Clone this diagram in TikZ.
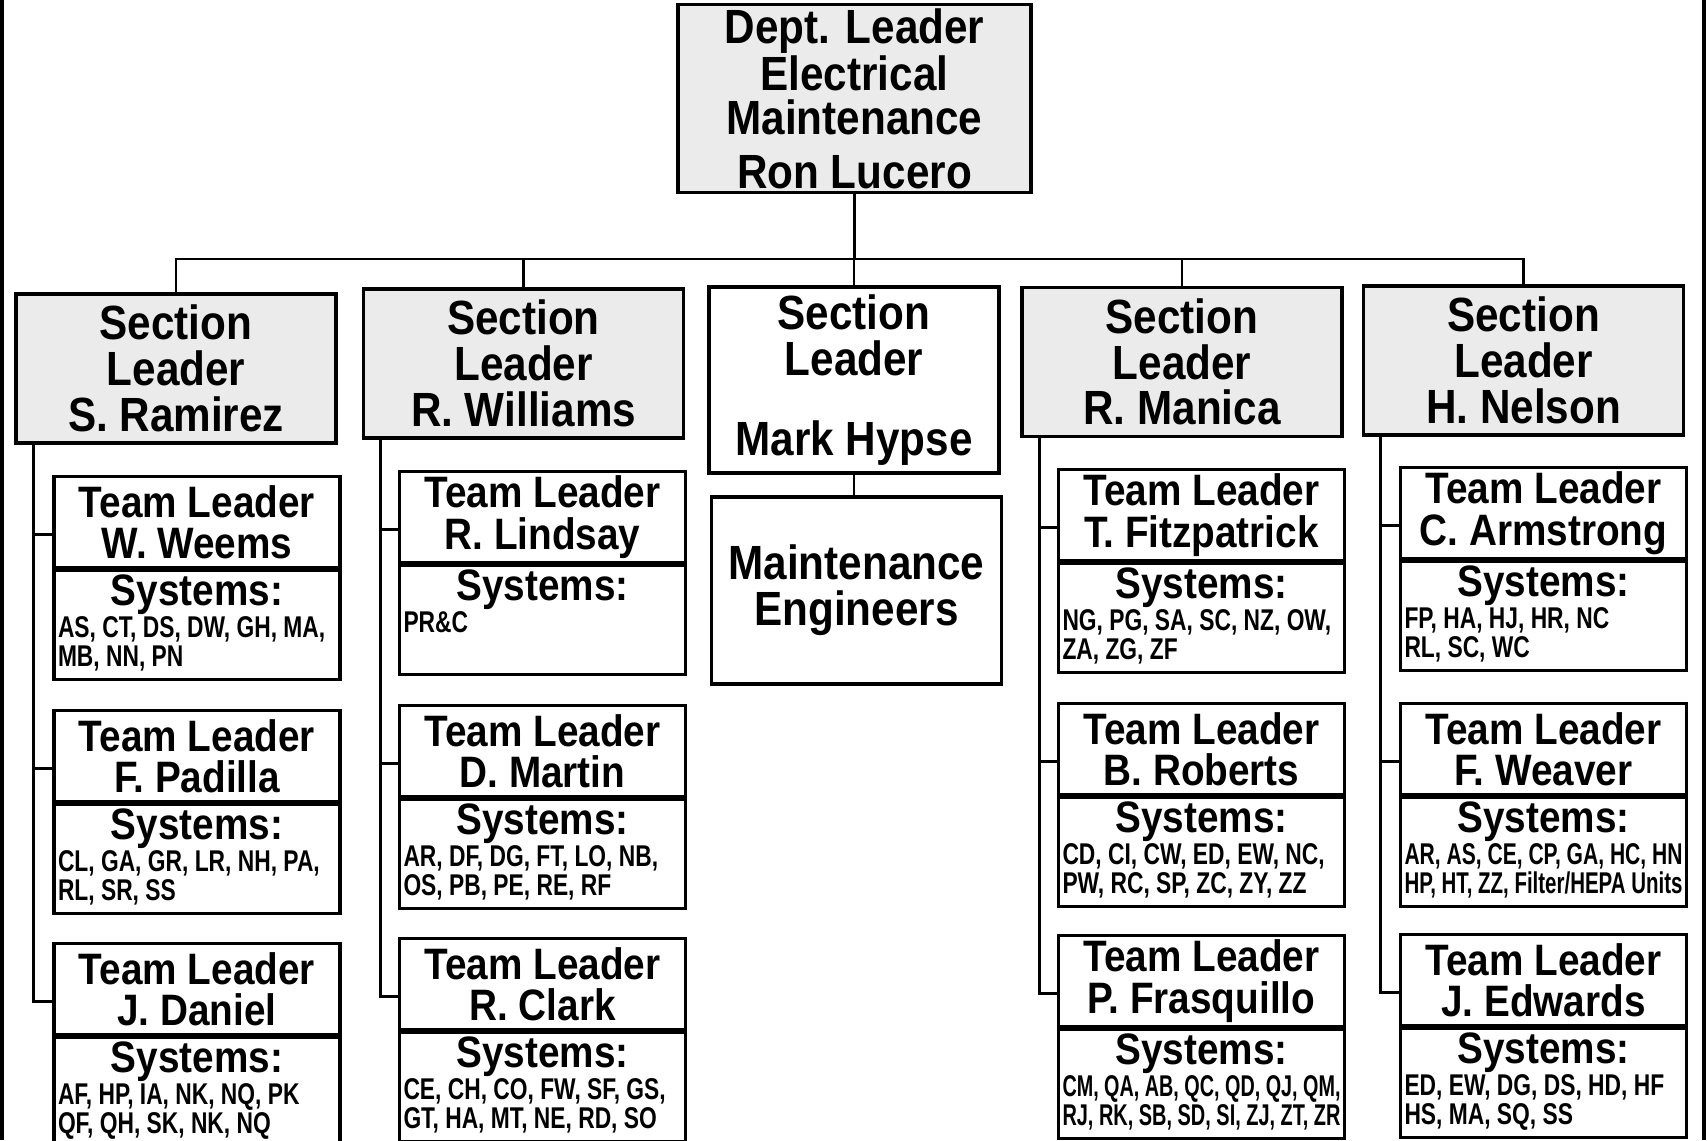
\documentclass[tikz,border=0pt]{standalone}
\usepackage{fontspec}
\usepackage{graphicx}
\setmainfont[FakeStretch=0.88]{Liberation Sans}
\newfontfamily\narrowfont[FakeStretch=0.76]{Liberation Sans}
\usetikzlibrary{positioning,calc}
\definecolor{stipplegray}{gray}{0.92}

\newcommand{\deptfont}{\fontsize{24}{22.3}\selectfont\bfseries}
\newcommand{\secfont}{\fontsize{24}{22.9}\selectfont\bfseries}
\newcommand{\teamfont}{\fontsize{22}{20.7}\selectfont\bfseries}
\newcommand{\listfont}{\narrowfont\fontsize{15}{14.2}\selectfont\bfseries}
\newsavebox{\fitbox}
\newcommand{\fitline}[1]{\leavevmode\sbox{\fitbox}{#1}%
  \ifdim\wd\fitbox>\linewidth\resizebox{\linewidth}{\ht\fitbox}{#1}\else\usebox{\fitbox}\fi}
\newcommand{\sysbox}[2]{\parbox[c][50.5pt][t]{139pt}{\centering\teamfont Systems:\par
  \raggedright\listfont\fitline{#1}\par\fitline{#2}}}

\begin{document}
\begin{tikzpicture}[
      x=0.5pt, y=-0.5pt,
      node distance=0pt,
      dept/.style={rectangle, draw, line width=1.8pt, fill=stipplegray, align=center, font=\deptfont, minimum width=176.5pt, minimum height=93.5pt, inner sep=2pt},
      section/.style={rectangle, draw, line width=1.8pt, fill=stipplegray, align=center, font=\secfont, minimum width=160pt, minimum height=74.5pt, inner sep=2pt},
      plain/.style={section, fill=white, minimum width=145pt, minimum height=93pt},
      team/.style={rectangle, draw, line width=1.6pt, align=center, font=\teamfont, minimum width=143pt, minimum height=45.5pt, inner sep=1pt, anchor=north},
      sys/.style={rectangle, draw, line width=1.6pt, minimum width=143pt, inner sep=2pt},
      link/.style={line width=1.4pt}
    ]
      \useasboundingbox (0,0) rectangle (1707,1140);
      \draw[line width=2pt] (2,0) -- (2,1140);
      \draw[line width=2pt] (1704,0) -- (1704,1140);

      \node[dept] (dept) at (854.5,98.5) {Dept. Leader\\Electrical\\Maintenance\\[4.4pt]Ron Lucero};

      \node[section] (ramirez) at (176,368.5) {Section\\Leader\\S. Ramirez};
      \node[section] (williams) at (523.5,363.5) {Section\\Leader\\R. Williams};
      \node[plain] (hypse) at (854,380) {Section\\Leader\\[17pt]Mark Hypse};
      \node[section] (manica) at (1182,362) {Section\\Leader\\R. Manica};
      \node[section] (nelson) at (1523.5,360.5) {Section\\Leader\\H. Nelson};

      \node[plain, minimum height=93.5pt] (engineers) at (856.5,590.5) {Maintenance\\Engineers};

      % Ramirez teams
      \node[team] (weems) at (197,475) {Team Leader\\W. Weems};
      \node[sys, below=of weems] (weemssys) {\sysbox{AS, CT, DS, DW, GH, MA,}{MB, NN, PN}};
      \node[team] (padilla) at (197,709) {Team Leader\\F. Padilla};
      \node[sys, below=of padilla] (padillasys) {\sysbox{CL, GA, GR, LR, NH, PA,}{RL, SR, SS}};
      \node[team] (daniel) at (197,942) {Team Leader\\J. Daniel};
      \node[sys, below=of daniel] (danielsys) {\sysbox{AF, HP, IA, NK, NQ, PK}{QF, QH, SK, NK, NQ}};

      % Williams teams
      \node[team] (lindsay) at (542.5,470) {Team Leader\\R. Lindsay};
      \node[sys, below=of lindsay] (lindsaysys) {\sysbox{PR\&C}{}};
      \node[team] (martin) at (542.5,704) {Team Leader\\D. Martin};
      \node[sys, below=of martin] (martinsys) {\sysbox{AR, DF, DG, FT, LO, NB,}{OS, PB, PE, RE, RF}};
      \node[team] (clark) at (542.5,937) {Team Leader\\R. Clark};
      \node[sys, below=of clark] (clarksys) {\sysbox{CE, CH, CO, FW, SF, GS,}{GT, HA, MT, NE, RD, SO}};

      % Manica teams
      \node[team] (fitz) at (1201.5,468) {Team Leader\\T. Fitzpatrick};
      \node[sys, below=of fitz] (fitzsys) {\sysbox{NG, PG, SA, SC, NZ, OW,}{ZA, ZG, ZF}};
      \node[team] (roberts) at (1201.5,702) {Team Leader\\B. Roberts};
      \node[sys, below=of roberts] (robertssys) {\sysbox{CD, CI, CW, ED, EW, NC,}{PW, RC, SP, ZC, ZY, ZZ}};
      \node[team] (frasquillo) at (1201.5,934) {Team Leader\\P. Frasquillo};
      \node[sys, below=of frasquillo] (frasquillosys) {\sysbox{CM, QA, AB, QC, QD, QJ, QM,}{RJ, RK, SB, SD, SI, ZJ, ZT, ZR}};

      % Nelson teams
      \node[team] (armstrong) at (1543.5,466) {Team Leader\\C. Armstrong};
      \node[sys, below=of armstrong] (armstrongsys) {\sysbox{FP, HA, HJ, HR, NC}{RL, SC, WC}};
      \node[team] (weaver) at (1543.5,702) {Team Leader\\F. Weaver};
      \node[sys, below=of weaver] (weaversys) {\sysbox{AR, AS, CE, CP, GA, HC, HN}{HP, HT, ZZ, Filter/HEPA Units}};
      \node[team] (edwards) at (1543.5,933) {Team Leader\\J. Edwards};
      \node[sys, below=of edwards] (edwardssys) {\sysbox{ED, EW, DG, DS, HD, HF}{HS, MA, SQ, SS}};

      % dept to sections
      \coordinate (bus) at (850,259);
      \draw[link] (dept.south) -- (dept.south |- bus);
      \draw[link] (ramirez.north) |- (nelson.north |- bus) -- (nelson.north);
      \draw[link] (williams.north) -- (williams.north |- bus);
      \draw[link] (hypse.north) -- (hypse.north |- bus);
      \draw[link] (manica.north) -- (manica.north |- bus);
      \draw[link] (hypse.south) -- (hypse.south |- engineers.north);

      % sections to teams
      \coordinate (rline) at ([xshift=9.5pt]ramirez.south west);
      \coordinate (wline) at ([xshift=9.5pt]williams.south west);
      \coordinate (mline) at ([xshift=9.5pt]manica.south west);
      \coordinate (nline) at ([xshift=9.5pt]nelson.south west);
      \draw[link] ([yshift=-6pt]weems.west) -| (rline);
      \draw[link] ([yshift=-6pt]padilla.west) -| (rline);
      \draw[link] ([yshift=-6pt]daniel.west) -| (rline);
      \draw[link] ([yshift=-6pt]lindsay.west) -| (wline);
      \draw[link] ([yshift=-6pt]martin.west) -| (wline);
      \draw[link] ([yshift=-6pt]clark.west) -| (wline);
      \draw[link] ([yshift=-6pt]fitz.west) -| (mline);
      \draw[link] ([yshift=-6pt]roberts.west) -| (mline);
      \draw[link] ([yshift=-6pt]frasquillo.west) -| (mline);
      \draw[link] ([yshift=-6pt]armstrong.west) -| (nline);
      \draw[link] ([yshift=-6pt]weaver.west) -| (nline);
      \draw[link] ([yshift=-6pt]edwards.west) -| (nline);
    \end{tikzpicture}
\end{document}
